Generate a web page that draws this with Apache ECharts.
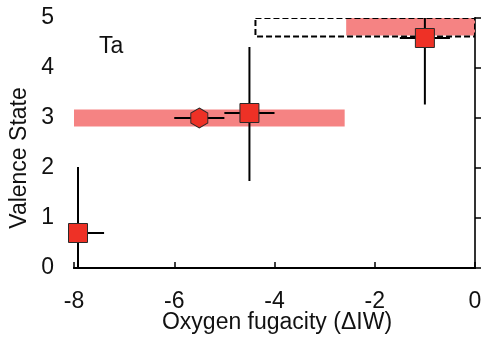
<!DOCTYPE html>
<html>
<head>
<meta charset="utf-8">
<script src="https://cdn.jsdelivr.net/npm/echarts@6/dist/echarts.min.js"></script>
<style>
  html, body { margin: 0; padding: 0; background: #fff; }
  #chart { width: 485px; height: 338px; }
</style>
</head>
<body>
<div id="chart"></div>
<script>
// measured points (oxygen fugacity vs valence)
const fO2 = [-7.92, -5.5, -4.5, -1.0];
const valence = [0.7, 3.0, 3.1, 4.6];
const xErrLo = [-8.45, -6.0, -5.0, -1.5];
const xErrHi = [-7.4, -5.0, -4.0, -0.5];
const yErrLo = [0, null, 1.74, 3.27];
const yErrHi = [2.02, null, 4.42, 5.4];
const markerKind = ["square", "hexagon", "square", "square"];

// shaded ranges
const bandX0 = [-8, -2.57];
const bandX1 = [-2.6, 0];
const bandY0 = [2.83, 4.65];
const bandY1 = [3.17, 5];

// dashed range box
const boxX = [-4.38, 0];
const boxY = [4.63, 5];

const xTicks = [-8, -6, -4, -2, 0];
const yTicks = [0, 1, 2, 3, 4, 5];

const FONT = "Liberation Sans";
const RED = "#ee3126";
const BAND = "#f58383";
const HEX = "path://M0,-1 L0.866,-0.5 L0.866,0.5 L0,1 L-0.866,0.5 L-0.866,-0.5 Z";

const chart = echarts.init(document.getElementById("chart"));

const bandData = bandX0.map((x, i) => [x, bandX1[i], bandY0[i], bandY1[i]]);
const pointData = fO2.map((x, i) => ({
  value: [x, valence[i]],
  symbol: markerKind[i] === "hexagon" ? HEX : "rect",
  symbolSize: markerKind[i] === "hexagon" ? [17, 20] : 19,
}));

const option = {
  animation: false,
  grid: { left: 74, right: 10, top: 18, bottom: 70, outerBoundsMode: "none" },
  xAxis: [
    {
      type: "value",
      min: xTicks[0],
      max: xTicks[xTicks.length - 1],
      interval: 2,
      name: "Oxygen fugacity (\u0394IW)",
      nameLocation: "middle",
      nameGap: 43,
      nameMoveOverlap: false,
      nameTextStyle: { fontFamily: FONT, fontSize: 23, color: "#111", padding: [0, 0, 0, 5] },
      axisLine: { lineStyle: { color: "#000", width: 2 } },
      axisTick: { inside: true, length: 6, lineStyle: { color: "#000", width: 1.5 } },
      axisLabel: { fontFamily: FONT, fontSize: 23, color: "#111", margin: 22 },
      splitLine: { show: false },
    },
    {
      type: "value",
      position: "top",
      min: xTicks[0],
      max: xTicks[xTicks.length - 1],
      axisLine: { show: true, lineStyle: { color: "#000", width: 2 } },
      axisTick: { show: false },
      axisLabel: { show: false },
      splitLine: { show: false },
    },
  ],
  yAxis: [
    {
      type: "value",
      min: yTicks[0],
      max: yTicks[yTicks.length - 1],
      interval: 1,
      name: "Valence State",
      nameLocation: "middle",
      nameGap: 43,
      nameMoveOverlap: false,
      nameTextStyle: { fontFamily: FONT, fontSize: 23, color: "#111", padding: [0, 30, 0, 0] },
      axisLine: { show: true, lineStyle: { color: "#000", width: 2 } },
      axisTick: { show: true, inside: true, length: 6, lineStyle: { color: "#000", width: 1.5 } },
      axisLabel: { fontFamily: FONT, fontSize: 23, color: "#111", margin: 20, padding: [3, 0, 0, 0] },
      splitLine: { show: false },
    },
    {
      type: "value",
      position: "right",
      min: yTicks[0],
      max: yTicks[yTicks.length - 1],
      axisLine: { show: true, lineStyle: { color: "#444", width: 1.5 } },
      axisTick: { show: false },
      axisLabel: { show: false },
      splitLine: { show: false },
    },
  ],
  graphic: [
    {
      type: "text",
      left: 99,
      top: 35,
      style: { text: "Ta", fontFamily: FONT, fontSize: 23, fill: "#111" },
    },
  ],
  series: [
    {
      type: "custom",
      name: "bands",
      clip: true,
      z: 1,
      data: bandData,
      renderItem: (params, api) => {
        const p0 = api.coord([api.value(0), api.value(3)]);
        const p1 = api.coord([api.value(1), api.value(2)]);
        return {
          type: "rect",
          shape: { x: p0[0], y: p0[1], width: p1[0] - p0[0], height: p1[1] - p0[1] },
          style: { fill: BAND },
        };
      },
    },
    {
      type: "custom",
      name: "box",
      clip: true,
      z: 2,
      data: [[boxX[0], boxX[1], boxY[0], boxY[1]]],
      renderItem: (params, api) => {
        const p0 = api.coord([api.value(0), api.value(3)]);
        const p1 = api.coord([api.value(1), api.value(2)]);
        return {
          type: "rect",
          shape: { x: p0[0], y: p0[1], width: p1[0] - p0[0], height: p1[1] - p0[1] },
          style: { fill: "none", stroke: "#000", lineWidth: 2, lineDash: [6, 3] },
        };
      },
    },
    {
      type: "custom",
      name: "errors",
      clip: true,
      z: 3,
      data: fO2.map((x, i) => [x, valence[i]]),
      renderItem: (params, api) => {
        const i = params.dataIndex;
        const x = api.value(0), y = api.value(1);
        const kids = [];
        const a = api.coord([xErrLo[i], y]);
        const b = api.coord([xErrHi[i], y]);
        kids.push({ type: "line", shape: { x1: a[0], y1: a[1], x2: b[0], y2: b[1] }, style: { stroke: "#000", lineWidth: 2 } });
        if (yErrLo[i] !== null) {
          const c = api.coord([x, yErrLo[i]]);
          const d = api.coord([x, yErrHi[i]]);
          kids.push({ type: "line", shape: { x1: c[0], y1: c[1], x2: d[0], y2: d[1] }, style: { stroke: "#000", lineWidth: 2 } });
        }
        return { type: "group", children: kids };
      },
    },
    {
      type: "scatter",
      name: "points",
      z: 4,
      data: pointData,
      itemStyle: { color: RED, borderColor: "#2a2a2a", borderWidth: 1, opacity: 1 },
    },
  ],
};

chart.setOption(option);
</script>
</body>
</html>
